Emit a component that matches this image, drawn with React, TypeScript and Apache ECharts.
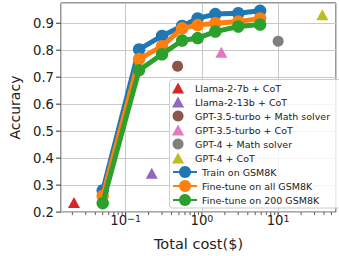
import React, { useEffect, useRef } from 'react';
import * as echarts from 'echarts';

// ---- data ----
const scatterNames = [
  'Llama-2-7b + CoT',
  'Llama-2-13b + CoT',
  'GPT-3.5-turbo + Math solver',
  'GPT-3.5-turbo + CoT',
  'GPT-4 + Math solver',
  'GPT-4 + CoT',
];
const scatterCost = [0.021, 0.22, 0.48, 1.8, 10, 38];
const scatterAcc = [0.236, 0.344, 0.741, 0.792, 0.833, 0.931];
const scatterSymbols = ['triangle', 'triangle', 'circle', 'triangle', 'circle', 'triangle'];
const scatterColors = ['#d62728', '#9467bd', '#8c564b', '#e377c2', '#7f7f7f', '#bcbd22'];

const lineNames = ['Train on GSM8K', 'Fine-tune on all GSM8K', 'Fine-tune on 200 GSM8K'];
const lineCost = [0.05, 0.15, 0.3, 0.55, 0.88, 1.5, 3.0, 5.8];
const trainAcc = [0.28, 0.803, 0.853, 0.89, 0.918, 0.934, 0.937, 0.946];
const ftAllAcc = [0.26, 0.767, 0.815, 0.881, 0.893, 0.9, 0.906, 0.918];
const ft200Acc = [0.233, 0.726, 0.785, 0.836, 0.845, 0.869, 0.888, 0.895];
const lineColors = ['#1f77b4', '#ff7f0e', '#2ca02c'];

const xMajorTicks = [0.1, 1, 10];
const xMinorTicks = [
  0.02, 0.03, 0.04, 0.05, 0.06, 0.07, 0.08, 0.09,
  0.2, 0.3, 0.4, 0.5, 0.6, 0.7, 0.8, 0.9,
  2, 3, 4, 5, 6, 7, 8, 9,
  20, 30, 40, 50,
];
const yTicks = [0.2, 0.3, 0.4, 0.5, 0.6, 0.7, 0.8, 0.9];

const X_MIN = 0.01419;
const X_MAX = 57.4;
const Y_MIN = 0.2;
const Y_MAX = 0.975;

const FONT = 'DejaVu Sans';
const TXT = '#222';
const TRI_ICON = 'path://M0,10 L5.5,0 L11,10 Z';

export default function App() {
  const ref = useRef<HTMLDivElement>(null);
  useEffect(() => {
    document.body.style.margin = '0';
    const chart = echarts.init(ref.current!, null, { renderer: 'svg' });
    const supMap: Record<string, string> = { '-1': '\u22121', '0': '0', '1': '1' };

    const series: any[] = [];
    scatterNames.forEach((name, i) => {
      series.push({
        name,
        type: 'scatter',
        symbol: scatterSymbols[i],
        symbolSize: scatterSymbols[i] === 'triangle' ? [12, 11] : 11,
        itemStyle: { color: scatterColors[i], opacity: 1 },
        data: [[scatterCost[i], scatterAcc[i]]],
        z: 3,
      });
    });
    const lineData = [trainAcc, ftAllAcc, ft200Acc];
    lineNames.forEach((name, i) => {
      series.push({
        name,
        type: 'line',
        symbol: 'circle',
        symbolSize: 12.5,
        showSymbol: true,
        lineStyle: { width: 5, color: lineColors[i] },
        itemStyle: { color: lineColors[i] },
        data: lineCost.map((c, j) => [c, lineData[i][j]]),
        z: 4 + i,
      });
    });
    series.push({
      type: 'custom',
      coordinateSystem: 'cartesian2d',
      silent: true,
      clip: false,
      data: [[1, 0.5]],
      z: 10,
      renderItem: (_p: any, api: any) => {
        const children: any[] = [];
        const st = { stroke: '#333', lineWidth: 1 };
        xMajorTicks.forEach((v) => {
          const p = api.coord([v, Y_MIN]);
          children.push({ type: 'line', shape: { x1: p[0], y1: p[1], x2: p[0], y2: p[1] + 5 }, style: st });
        });
        xMinorTicks.forEach((v) => {
          const p = api.coord([v, Y_MIN]);
          children.push({ type: 'line', shape: { x1: p[0], y1: p[1], x2: p[0], y2: p[1] + 3 }, style: { stroke: '#333', lineWidth: 0.8 } });
        });
        yTicks.forEach((v) => {
          const p = api.coord([X_MIN, v]);
          children.push({ type: 'line', shape: { x1: p[0] - 5, y1: p[1], x2: p[0], y2: p[1] }, style: st });
        });
        return { type: 'group', children };
      },
    });

    const legendText = { fontFamily: FONT, fontSize: 9.5, color: TXT, lineHeight: 11 };
    chart.setOption({
      animation: false,
      backgroundColor: '#fff',
      grid: {
        left: 61, top: 3, width: 285, height: 210,
        show: true, borderColor: '#333', borderWidth: 1, backgroundColor: 'transparent',
      },
      xAxis: {
        type: 'log',
        logBase: 10,
        min: X_MIN,
        max: X_MAX,
        axisLine: { show: false },
        axisTick: { show: false },
        splitLine: { show: true, lineStyle: { color: '#c8c8c8', width: 1 } },
        axisLabel: {
          margin: 1,
          showMinLabel: true,
          showMaxLabel: true,
          formatter: (v: number) => {
            const e = Math.log10(v);
            const r = Math.round(e);
            if (Math.abs(e - r) > 1e-6) return '';
            return `{b|10}{s|${supMap[String(r)] ?? String(r)}}`;
          },
          rich: {
            b: { fontFamily: FONT, fontSize: 13.2, color: TXT, lineHeight: 14, verticalAlign: 'bottom' },
            s: { fontFamily: FONT, fontSize: 9.5, color: TXT, lineHeight: 10, verticalAlign: 'top', padding: [0, 0, 8, 0] },
          },
        },
        name: 'Total cost($)',
        nameLocation: 'middle',
        nameGap: 22,
        nameTextStyle: { fontFamily: FONT, fontSize: 14.5, color: TXT, verticalAlign: 'top' },
      },
      yAxis: {
        type: 'value',
        min: Y_MIN,
        max: Y_MAX,
        interval: 0.1,
        axisLine: { show: false },
        axisTick: { show: false },
        splitLine: { show: true, lineStyle: { color: '#c8c8c8', width: 1 } },
        axisLabel: {
          margin: 7,
          fontFamily: FONT,
          fontSize: 13.2,
          color: TXT,
          formatter: (v: number) => {
            const k = Math.round(v * 10);
            if (Math.abs(v * 10 - k) > 1e-6) return '';
            return (k / 10).toFixed(1);
          },
        },
        name: 'Accuracy',
        nameLocation: 'middle',
        nameGap: 31,
        nameTextStyle: { fontFamily: FONT, fontSize: 14, color: TXT },
      },
      graphic: [
        {
          type: 'rect',
          z: 1,
          shape: { x: 169.5, y: 79.5, width: 180, height: 128.5, r: 3 },
          style: { fill: 'rgba(255,255,255,0.8)', stroke: '#cccccc', lineWidth: 1 },
        },
      ],
      legend: [
        {
          orient: 'vertical', left: 172, top: 82.5, padding: 0,
          itemGap: 3, itemWidth: 24, itemHeight: 11,
          symbolKeepAspect: true,
          data: scatterNames.map((n, i) => ({
            name: n,
            icon: scatterSymbols[i] === 'triangle' ? TRI_ICON : 'circle',
          })),
          textStyle: legendText,
        },
        {
          orient: 'vertical', left: 172, top: 164.5, padding: 0,
          itemGap: -1, itemWidth: 24, itemHeight: 15,
          data: lineNames, textStyle: { ...legendText, lineHeight: 15 },
        },
      ],
      series,
    });
    return () => chart.dispose();
  }, []);
  return <div ref={ref} style={{ position: 'fixed', left: 0, top: 0, width: 339, height: 256 }} />;
}
